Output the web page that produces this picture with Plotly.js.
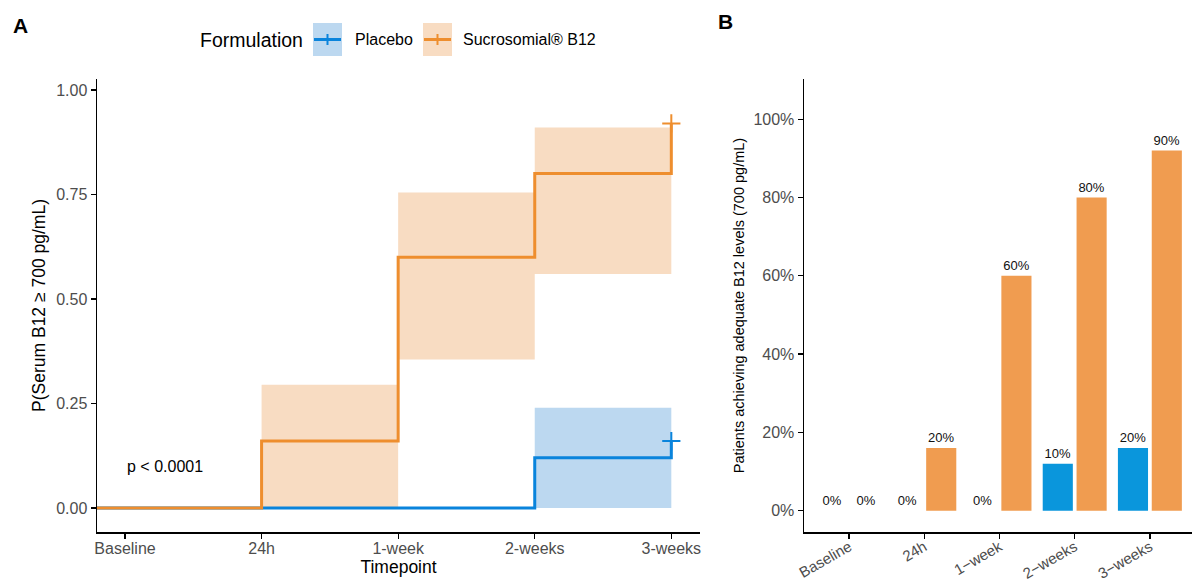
<!DOCTYPE html>
<html><head><meta charset="utf-8">
<script src="https://cdn.plot.ly/plotly-3.0.1.min.js"></script>
<style>html,body{margin:0;padding:0;background:#fff}#chart{width:1192px;height:581px}</style>
</head><body><div id="chart"></div>
<script>
// ---------- data ----------
const timepoints = ['Baseline', '24h', '1-week', '2-weeks', '3-weeks'];
const timepointsB = ['Baseline', '24h', '1\u2212week', '2\u2212weeks', '3\u2212weeks'];
const seriesNames = ['Placebo', 'Sucrosomial\u00ae B12'];

// Panel A: step estimates and confidence band at each timepoint
const placeboEst   = [0, 0, 0, 0.12, 0.16];
const placeboLower = [0, 0, 0, 0, 0];
const placeboUpper = [0, 0, 0, 0.24, 0.24];
const sucroEst     = [0, 0.16, 0.60, 0.80, 0.92];
const sucroLower   = [0, 0, 0.355, 0.56, 0.56];
const sucroUpper   = [0, 0.295, 0.755, 0.91, 0.91];
const pLabel = 'p < 0.0001';

// Panel B: bar heights and printed labels
const placeboBar = [0, 0, 0, 0.12, 0.16];
const sucroBar   = [0, 0.16, 0.60, 0.80, 0.92];
const placeboLabels = ['0%', '0%', '0%', '10%', '20%'];
const sucroLabels   = ['0%', '20%', '60%', '80%', '90%'];

// ---------- styling ----------
const W = 1192, H = 581;
const px = v => v / W, py = v => 1 - v / H;
const FONT = 'Liberation Sans, Arial, Helvetica, sans-serif';
const blue = '#0A84DC', orange = '#EE8E2E';
const blueFill = 'rgb(188,216,240)', orangeFill = 'rgb(248,220,194)';
const blueBar = '#0A96DC', orangeBar = '#F09C50';
const tickGray = '#4D4D4D';

const xRangeA = [-0.205, 4.21];
const idx = timepoints.map((_, i) => i);
const withStart = (arr) => [xRangeA[0]].concat(idx);
const estWithStart = (arr) => [arr[0]].concat(arr);

const traces = [
  // bands
  {x: idx, y: placeboUpper, xaxis: 'x', yaxis: 'y', mode: 'lines', line: {shape: 'hv', width: 0, color: blueFill}, hoverinfo: 'skip', showlegend: false},
  {x: idx, y: placeboLower, xaxis: 'x', yaxis: 'y', mode: 'lines', line: {shape: 'hv', width: 0, color: blueFill}, fill: 'tonexty', fillcolor: blueFill, hoverinfo: 'skip', showlegend: false},
  {x: idx, y: sucroUpper, xaxis: 'x', yaxis: 'y', mode: 'lines', line: {shape: 'hv', width: 0, color: orangeFill}, hoverinfo: 'skip', showlegend: false},
  {x: idx, y: sucroLower, xaxis: 'x', yaxis: 'y', mode: 'lines', line: {shape: 'hv', width: 0, color: orangeFill}, fill: 'tonexty', fillcolor: orangeFill, hoverinfo: 'skip', showlegend: false},
  // step lines
  {x: withStart(placeboEst), y: estWithStart(placeboEst), xaxis: 'x', yaxis: 'y', mode: 'lines', name: seriesNames[0], line: {shape: 'hv', width: 3, color: blue}, showlegend: false},
  {x: withStart(sucroEst), y: estWithStart(sucroEst), xaxis: 'x', yaxis: 'y', mode: 'lines', name: seriesNames[1], line: {shape: 'hv', width: 3, color: orange}, showlegend: false},
  // censor marks at last timepoint
  {x: [idx[idx.length - 1]], y: [placeboEst[placeboEst.length - 1]], xaxis: 'x', yaxis: 'y', mode: 'markers', marker: {symbol: 'cross-thin', size: 13, line: {width: 2, color: blue}}, showlegend: false, hoverinfo: 'skip'},
  {x: [idx[idx.length - 1]], y: [sucroEst[sucroEst.length - 1]], xaxis: 'x', yaxis: 'y', mode: 'markers', marker: {symbol: 'cross-thin', size: 13, line: {width: 2, color: orange}}, showlegend: false, hoverinfo: 'skip'},
  // Panel B bars
  {type: 'bar', x: timepointsB, y: placeboBar, xaxis: 'x2', yaxis: 'y2', name: seriesNames[0], marker: {color: blueBar, line: {width: 0}},
   text: placeboLabels, textposition: 'outside', cliponaxis: false, constraintext: 'none', textfont: {family: FONT, size: 13, color: '#111'}, showlegend: false},
  {type: 'bar', x: timepointsB, y: sucroBar, xaxis: 'x2', yaxis: 'y2', name: seriesNames[1], marker: {color: orangeBar, line: {width: 0}},
   text: sucroLabels, textposition: 'outside', cliponaxis: false, constraintext: 'none', textfont: {family: FONT, size: 13, color: '#111'}, showlegend: false}
];

const axisCommon = {
  showline: true, linecolor: '#000', linewidth: 1.5, ticks: 'outside', ticklen: 5, tickwidth: 1.3, tickcolor: '#000',
  showgrid: false, zeroline: false, fixedrange: true
};

const domY = [py(532), py(79)];

const layout = {
  width: W, height: H,
  margin: {l: 0, r: 0, t: 0, b: 0},
  paper_bgcolor: '#fff', plot_bgcolor: '#fff',
  font: {family: FONT, color: '#000'},
  showlegend: false,
  barmode: 'group', bargap: 0.1, bargroupgap: 0.11,
  xaxis: Object.assign({}, axisCommon, {
    domain: [px(97), px(700)], range: xRangeA,
    tickvals: idx, ticktext: timepoints,
    tickfont: {size: 16, color: tickGray, family: FONT},
    ticklabelstandoff: -4,
    title: {text: 'Timepoint', font: {size: 17.5, color: '#000', family: FONT}, standoff: 3},
    automargin: false
  }),
  yaxis: Object.assign({}, axisCommon, {
    domain: domY, range: [-0.0574, 1.0263],
    tickvals: [0, 0.25, 0.5, 0.75, 1], tickformat: '.2f',
    tickfont: {size: 16, color: tickGray, family: FONT},
    title: {text: 'P(Serum B12 \u2265 700 pg/mL)', font: {size: 17.5, color: '#000', family: FONT}, standoff: 6},
    automargin: false
  }),
  xaxis2: Object.assign({}, axisCommon, {
    domain: [px(804), 1], range: [-0.6, 4.56], type: 'category',
    tickangle: -30,
    ticklabelstandoff: -6,
    tickfont: {size: 15, color: tickGray, family: FONT},
    automargin: false
  }),
  yaxis2: Object.assign({}, axisCommon, {
    domain: domY, range: [-0.0544, 1.1027], anchor: 'x2',
    tickvals: [0, 0.2, 0.4, 0.6, 0.8, 1], tickformat: '.0%',
    tickfont: {size: 16, color: tickGray, family: FONT},
    title: {text: 'Patients achieving adequate B12 levels (700 pg/mL)', font: {size: 14.5, color: '#000', family: FONT}, standoff: 5},
    automargin: false
  }),
  shapes: [
    // legend keys
    {type: 'rect', xref: 'paper', yref: 'paper', x0: px(313), x1: px(342), y0: py(56), y1: py(23), fillcolor: blueFill, line: {width: 0}},
    {type: 'line', xref: 'paper', yref: 'paper', x0: px(314), x1: px(341), y0: py(39.5), y1: py(39.5), line: {color: blue, width: 3}},
    {type: 'line', xref: 'paper', yref: 'paper', x0: px(327.5), x1: px(327.5), y0: py(34), y1: py(45), line: {color: blue, width: 2}},
    {type: 'rect', xref: 'paper', yref: 'paper', x0: px(423), x1: px(452), y0: py(56), y1: py(23), fillcolor: orangeFill, line: {width: 0}},
    {type: 'line', xref: 'paper', yref: 'paper', x0: px(424), x1: px(451), y0: py(39.5), y1: py(39.5), line: {color: orange, width: 3}},
    {type: 'line', xref: 'paper', yref: 'paper', x0: px(437.5), x1: px(437.5), y0: py(34), y1: py(45), line: {color: orange, width: 2}}
  ],
  annotations: [
    {text: '<b>A</b>', xref: 'paper', yref: 'paper', x: px(11), y: py(26), xanchor: 'left', yanchor: 'middle', showarrow: false, font: {size: 21, family: FONT, color: '#000'}},
    {text: '<b>B</b>', xref: 'paper', yref: 'paper', x: px(716), y: py(21), xanchor: 'left', yanchor: 'middle', showarrow: false, font: {size: 21, family: FONT, color: '#000'}},
    {text: 'Formulation', xref: 'paper', yref: 'paper', x: px(305), y: py(40), xanchor: 'right', yanchor: 'middle', showarrow: false, font: {size: 19.5, family: FONT, color: '#000'}},
    {text: seriesNames[0], xref: 'paper', yref: 'paper', x: px(353), y: py(40), xanchor: 'left', yanchor: 'middle', showarrow: false, font: {size: 16, family: FONT, color: '#000'}},
    {text: seriesNames[1], xref: 'paper', yref: 'paper', x: px(461), y: py(40), xanchor: 'left', yanchor: 'middle', showarrow: false, font: {size: 16, family: FONT, color: '#000'}},
    {text: pLabel, xref: 'x', yref: 'y', x: 0, y: 0.099, xanchor: 'left', yanchor: 'middle', showarrow: false, font: {size: 16, family: FONT, color: '#000'}}
  ]
};

Plotly.newPlot('chart', traces, layout, {displayModeBar: false, staticPlot: true});
</script>
</body></html>
